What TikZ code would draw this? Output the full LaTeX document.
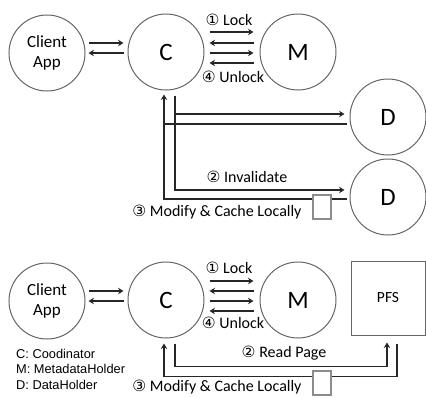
\documentclass[tikz,border=0pt]{standalone}
\usepackage{fontspec}
\setmainfont{Carlito}
\newfontfamily\symf{DejaVu Sans}
\newfontfamily\legf{Liberation Sans}
\usetikzlibrary{arrows.meta,calc}
\newcommand{\cnum}[1]{{\symf\fontsize{15.5}{15.5}\selectfont #1}}
\begin{document}
\begin{tikzpicture}[x=1pt,y=-1pt,
  circ/.style={circle,draw=black!60,line width=1pt,minimum size=76pt,inner sep=0pt},
  boxn/.style={rectangle,draw=black!60,line width=1pt,minimum size=74pt,inner sep=0pt,font=\fontsize{15.5}{15.5}\selectfont},
  bigl/.style={font=\fontsize{25}{25}\selectfont},
  captxt/.style={font=\fontsize{17}{20}\selectfont,align=center},
  lab/.style={font=\fontsize{16}{16}\selectfont,inner sep=0pt},
  conn/.style={line width=1.8pt,draw=black!85},
  arr/.style={conn,-{Stealth[length=5.5pt,width=6.5pt]}},
  cache/.style={draw=black!45,line width=2.2pt,fill=white,minimum width=18pt,minimum height=24pt,inner sep=0pt},
  legend/.style={font=\legf\fontsize{12.8}{15.5}\selectfont,anchor=west,inner sep=0pt,align=left}
]
\useasboundingbox (0,0) rectangle (426,397);

% ---------- top ----------
\node[circ,captxt] (CA1) at (47,53) {Client\\App};
\node[circ,bigl] (C1) at (166,52) {C};
\node[circ,bigl] (M1) at (298,52) {M};
\node[circ,bigl] (D1) at (388,117) {D};
\node[circ,bigl] (D2) at (388,197) {D};

\draw[arr] ($(CA1.east)+(3,-10)$) -- ($(C1.west)+(-4,-9)$);
\draw[arr] ($(C1.west)+(-4,1)$) -- ($(CA1.east)+(3,0)$);

\draw[arr] ($(C1.east)+(5,-20)$) -- ($(M1.west)+(-6,-20)$);
\draw[arr] ($(M1.west)+(-6,-9)$) -- ($(C1.east)+(5,-9)$);
\draw[arr] ($(C1.east)+(5,1)$) -- ($(M1.west)+(-6,1)$);
\draw[arr] ($(M1.west)+(-6,11)$) -- ($(C1.east)+(5,11)$);

\node[lab] (lk1) at (229,20) {\cnum{①} Lock};
\node[lab] (ul1) at (233,77) {\cnum{④} Unlock};

\coordinate (t1) at ($(C1.south)+(9,5)$);
\coordinate (t2) at ($(C1.south)+(-2,4)$);
\coordinate (aD1) at ($(D1.west)+(-5,-3)$);
\coordinate (rD1) at ($(D1.west)+(-3,7)$);
\coordinate (aD2) at ($(D2.west)+(-5,-7)$);
\coordinate (rD2) at ($(D2.west)+(-3,2)$);

\draw[arr] (t1) |- (aD2);
\draw[arr] (t1 |- aD1) -- (aD1);
\draw[arr] (rD2) -| (t2);
\draw[conn] (rD1) -- (t2 |- rD1);

\node[cache] (K1) at (322,207) {};

\node[lab] (inv) at (247,177) {\cnum{②} Invalidate};
\node[lab] (mod1) at (217,212) {\cnum{③} Modify \& Cache Locally};

% ---------- bottom ----------
\node[circ,captxt] (CA2) at (47,301) {Client\\App};
\node[circ,bigl] (C2) at (166,300) {C};
\node[circ,bigl] (M2) at (298,300) {M};
\node[boxn] (PFS) at (388,298) {PFS};

\draw[arr] ($(CA2.east)+(3,-10)$) -- ($(C2.west)+(-4,-9)$);
\draw[arr] ($(C2.west)+(-4,1)$) -- ($(CA2.east)+(3,0)$);

\draw[arr] ($(C2.east)+(5,-19)$) -- ($(M2.west)+(-6,-19)$);
\draw[arr] ($(M2.west)+(-6,-9)$) -- ($(C2.east)+(5,-9)$);
\draw[arr] ($(C2.east)+(5,1)$) -- ($(M2.west)+(-6,1)$);
\draw[arr] ($(M2.west)+(-6,11)$) -- ($(C2.east)+(5,11)$);

\node[lab] (lk2) at (229,268) {\cnum{①} Lock};
\node[lab] (ul2) at (233,323) {\cnum{④} Unlock};

\coordinate (b1) at ($(C2.south)+(9,5)$);
\coordinate (b2) at ($(C2.south)+(-2,5)$);
\coordinate (bend1) at ($(C2.south)+(9,28)$);
\coordinate (pA) at ($(PFS.south)+(-1,7)$);
\coordinate (pB) at ($(PFS.south)+(9,8)$);
\coordinate (bend2) at ($(PFS.south)+(9,41)$);

\draw[arr] (b1) -- (bend1) -| (pA);
\draw[arr] (pB) -- (bend2) -| (b2);

\node[cache] (K2) at (322,383) {};

\node[lab] (rp) at (284,353) {\cnum{②} Read Page};
\node[lab] (mod2) at (217,387) {\cnum{③} Modify \& Cache Locally};

\node[legend] (leg) at (16,369) {C: Coodinator\\M: MetadataHolder\\D: DataHolder};
\end{tikzpicture}
\end{document}
